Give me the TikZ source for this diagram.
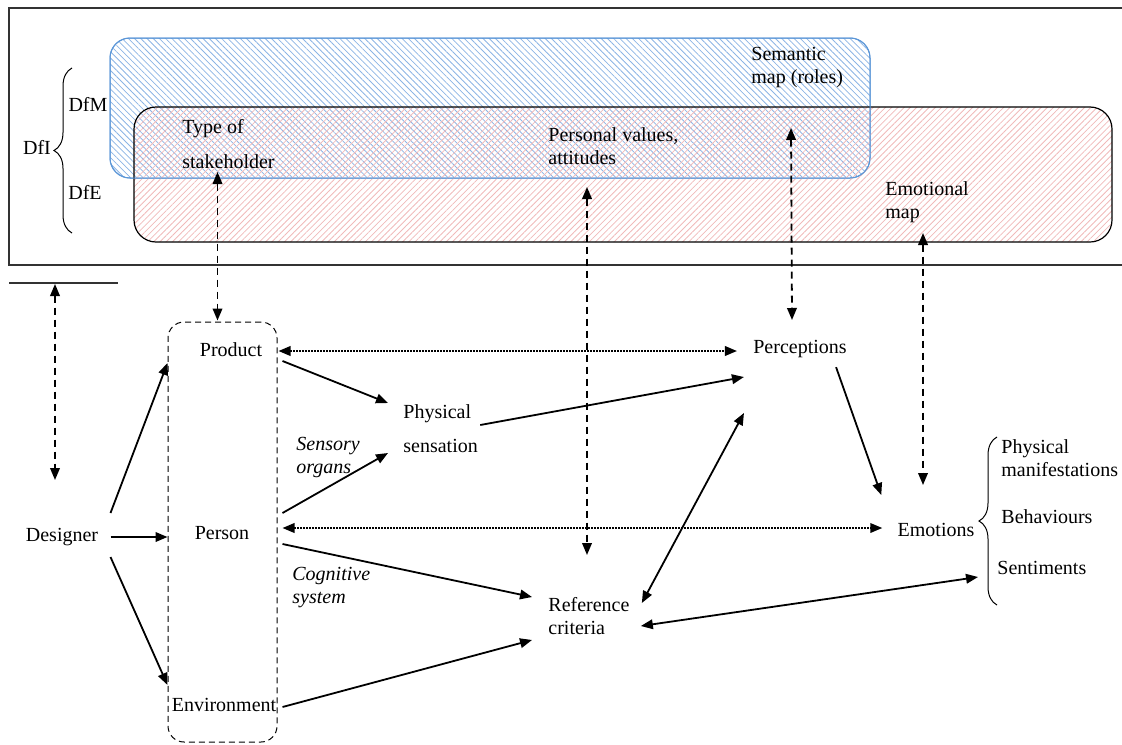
\documentclass[tikz,border=0pt]{standalone}
\usepackage{fontspec}
\setmainfont{Liberation Serif}
\usepackage{xcolor}
\usepackage{tikz}
\usetikzlibrary{arrows.meta,patterns.meta,decorations.pathreplacing,fit,calc}

\definecolor{mapblue}{RGB}{91,150,215}
\definecolor{hatchblue}{RGB}{140,180,228}
\definecolor{hatchred}{RGB}{240,186,186}

\begin{document}
\begin{tikzpicture}[x=0.5pt,y=-0.5pt]
		\tikzstyle{txt}=[font=\fontsize{10}{11.5}\selectfont, inner sep=2pt]
		\tikzstyle{ltxt}=[txt, anchor=west, align=left]
		\tikzstyle{frame}=[draw=black!80, line width=0.6pt]
		\tikzstyle{semmapbox}=[draw=mapblue, line width=0.5pt, rounded corners=10pt, pattern={Lines[angle=-45,distance=2.2pt,line width=0.4pt]}, pattern color=hatchblue]
		\tikzstyle{emomapbox}=[draw=black, line width=0.6pt, rounded corners=11pt, pattern={Lines[angle=45,distance=2.2pt,line width=0.4pt]}, pattern color=hatchred]
		\tikzstyle{stakebox}=[draw, line width=0.5pt, dash pattern=on 3pt off 2pt, rounded corners=8pt, inner sep=0pt]
		\tikzstyle{arr}=[line width=0.9pt, -{Triangle[length=6pt,width=4.8pt]}]
		\tikzstyle{biarr}=[arr, {Triangle[length=6pt,width=4.8pt]}-{Triangle[length=6pt,width=4.8pt]}]
		\tikzstyle{dasharr}=[biarr, dash pattern=on 3.5pt off 2.5pt]
		\tikzstyle{dotarr}=[biarr, dash pattern=on 0.8pt off 0.7pt]
		\tikzstyle{brace}=[decorate, decoration={brace, amplitude=9pt}, line width=0.5pt]

		\useasboundingbox (0,0) rectangle (1122,744);

		\draw[frame] (1122,8) -- (9,8) -- (9,265) -- (1122,265);
		\draw[semmapbox] (110,38) rectangle (870,178);
		\draw[emomapbox] (134,107) rectangle (1112,242);
		\draw[draw=mapblue, line width=0.5pt, rounded corners=10pt] (110,38) rectangle (870,178);

		\node (dfi) [txt] at (37,147) {DfI};
		\node (dfm) [txt] at (88,104) {DfM};
		\node (dfe) [txt] at (85,192) {DfE};
		\draw[brace] (72,233) -- (72,68);

		\node (stake) [ltxt] at (178,144) {Type of\\[6pt]stakeholder};
		\node (values) [ltxt] at (544,146) {Personal values,\\attitudes};
		\node (semmap) [ltxt] at (747,68) {Semantic\\map (roles)};
		\node (emomap) [ltxt] at (881,202) {Emotional\\map};

		\coordinate (base) at (55,283);
		\draw[frame] ($(base)+(-46,0)$) -- ($(base)+(63,0)$);

		\node (sbox) [stakebox, fit={(168,322) (277,742)}] {};
		\node (prod) [txt] at (231,350) {Product};
		\node (pers) [txt] at (222,533) {Person};
		\node (env) [txt] at (224,705) {Environment};
		\node (desig) [txt, inner xsep=6pt] at (62,537) {Designer};

		\node (phys) [ltxt] at (399,429) {Physical\\[5.5pt]sensation};
		\node (sens) [ltxt] at (292,457) {\itshape Sensory\\\itshape organs};
		\node (cogn) [ltxt] at (288,588) {\itshape Cognitive\\\itshape system};
		\node (perc) [txt] at (800,349) {Perceptions};
		\node (refc) [ltxt] at (544,616) {Reference\\criteria};
		\node (emot) [txt] at (936,530) {Emotions};

		\node (pm) [ltxt] at (997,458) {Physical\\manifestations};
		\node (beh) [ltxt] at (997,517) {Behaviours};
		\node (sent) [ltxt] at (993,568) {Sentiments};
		\draw[brace] (997,605) -- (997,437);

		\draw[dasharr] ($(sbox.north |- stake)+(-5,28)$) -- ($(sbox.north)+(-5,-1)$);
		\draw[dasharr] ($(values.west)+(43,41)$) -- ($(refc.west)+(43,-61)$);
		\draw[dasharr] ($(semmap.west)+(44,60)$) -- ($(perc)+(-8,-29)$);
		\draw[dasharr] ($(emomap.west)+(42,31)$) -- ($(emot)+(-13,-45)$);
		\draw[dasharr] ($(base)+(0,1)$) -- ($(desig)+(-7,-57)$);

		\draw[arr] ($(desig.east)+(0,-24)$) -- ($(sbox.west |- prod)+(0,13)$);
		\draw[arr] (desig.east) -- (desig.east -| sbox.west);
		\draw[arr] ($(desig.east)+(0,20)$) -- ($(sbox.west |- env)+(0,-20)$);

		\draw[arr] ($(sbox.east |- prod)+(5,11)$) -- ($(phys.west)+(-11,-26)$);
		\draw[arr] ($(sbox.east |- pers)+(5,-20)$) -- ($(phys.west)+(-11,24)$);
		\draw[dotarr] ($(sbox.east |- prod)+(1,1)$) -- ($(perc.west |- prod)+(-12,1)$);
		\draw[dotarr] ($(sbox.east |- pers)+(5,-5)$) -- ($(emot.west |- pers)+(-11,-5)$);
		\draw[arr] ($(phys.east)+(-2,-4)$) -- ($(perc.west)+(-5,28)$);
		\draw[arr] ($(sbox.east |- pers)+(5,11)$) -- ($(refc.west)+(-12,-19)$);
		\draw[arr] ($(sbox.east |- env)+(5,2)$) -- ($(refc.west)+(-12,24)$);
		\draw[biarr] ($(refc.east)+(8,-13)$) -- ($(perc.west)+(-5,64)$);
		\draw[arr] ($(perc.south east)+(-15,5)$) -- ($(emot.west)+(-12,-35)$);
		\draw[biarr] ($(refc.east)+(7,10)$) -- ($(sent.west)+(-15,9)$);
\end{tikzpicture}
\end{document}
